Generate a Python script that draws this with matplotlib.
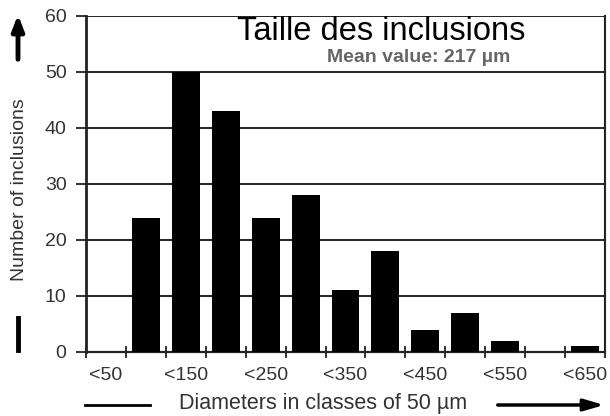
import numpy as np
import matplotlib
matplotlib.use("Agg")
import matplotlib.pyplot as plt

plt.rcParams['font.family'] = ['Liberation Sans', 'DejaVu Sans']

# counts per 50 um diameter class
classes = ["<50", "<100", "<150", "<200", "<250", "<300", "<350",
           "<400", "<450", "<500", "<550", "<600", "<650"]
counts = [0, 24, 50, 43, 24, 28, 11, 18, 4, 7, 2, 0, 1]
yticks = [0, 10, 20, 30, 40, 50, 60]

W, H = 610, 416
fig = plt.figure(figsize=(W / 100, H / 100), dpi=100)
ax = fig.add_axes([86 / W, 1 - 352 / H, (605 - 86) / W, (352 - 16) / H])

x = np.arange(len(classes))
ax.bar(x, counts, width=0.7, color='black', zorder=3)

ax.set_xlim(-0.5, len(classes) - 0.5)
ax.set_ylim(0, 60)

# class edges as tick marks, every other class labelled at its centre
ax.set_xticks(np.arange(len(classes) + 1) - 0.5)
ax.set_xticklabels([])
ax.set_xticks(x[::2], minor=True)
ax.set_xticklabels(classes[::2], minor=True)
ax.tick_params(axis='x', which='major', direction='inout', length=9, width=1.3, color='#222')
ax.tick_params(axis='x', which='minor', length=0, pad=11, labelsize=14, labelcolor='#333')

ax.set_yticks(yticks)
ax.tick_params(axis='y', direction='out', length=7, width=1.3, color='#222',
               labelsize=14, labelcolor='#333', pad=7)

ax.grid(axis='y', color='#222', linewidth=1.4, zorder=1)
ax.spines['top'].set_visible(False)
ax.spines['left'].set_linewidth(2)
ax.spines['right'].set_linewidth(1.5)
ax.spines['bottom'].set_linewidth(1.6)
for s in ax.spines.values():
    s.set_color('#222')

fig.text(381 / W, 1 - 40 / H, "Taille des inclusions", fontsize=23.5,
         ha='center', va='baseline', color='black')
fig.text(419 / W, 1 - 62 / H, "Mean value: 217 \u00b5m", fontsize=14,
         fontweight='bold', ha='center', va='baseline', color='#666')

fig.text(20 / W, 1 - 190 / H, "Number of inclusions", rotation=90, fontsize=14,
         ha='center', va='center', color='#333')
fig.text(323 / W, 1 - 404 / H, "Diameters in classes of 50 \u00b5m", fontsize=15.5,
         ha='center', va='center', color='#333')

# axis arrows and bars
fig.add_artist(plt.Line2D([18 / W, 18 / W], [1 - 350 / H, 1 - 318 / H],
                          color='black', linewidth=3.5))
ax.annotate("", xy=(18 / W, 1 - 12 / H), xytext=(18 / W, 1 - 62 / H),
            xycoords='figure fraction',
            arrowprops=dict(arrowstyle='-|>,head_length=0.9,head_width=0.35',
                            color='black', lw=3.5))
fig.add_artist(plt.Line2D([85 / W, 150 / W], [1 - 405 / H, 1 - 405 / H],
                          color='black', linewidth=2))
ax.annotate("", xy=(607 / W, 1 - 405 / H), xytext=(495 / W, 1 - 405 / H),
            xycoords='figure fraction',
            arrowprops=dict(arrowstyle='-|>,head_length=1.2,head_width=0.35',
                            color='black', lw=2.5))

fig.savefig("out.png", dpi=100)
